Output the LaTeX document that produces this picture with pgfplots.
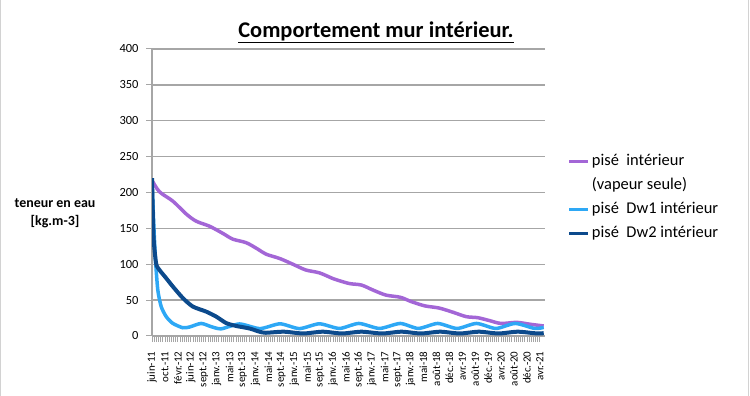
\documentclass[border=0pt]{standalone}
\usepackage{fontspec}
\setmainfont{Carlito}
\usepackage{pgfplots}
\pgfplotsset{compat=1.18}
\definecolor{cpurple}{HTML}{A366D6}
\definecolor{clight}{HTML}{2EA8F5}
\definecolor{cdark}{HTML}{0C4A8C}
\definecolor{cgrid}{HTML}{A6A6A6}
\begin{document}
\begin{tikzpicture}
\path[use as bounding box] (0bp,0bp) rectangle (750bp,396bp);
\draw[gray!35, line width=1bp] (0.5bp,0bp) -- (0.5bp,396bp);
\draw[gray!35, line width=1bp] (748.5bp,0bp) -- (748.5bp,396bp);
\node[font=\fontsize{22.5}{26}\selectfont\bfseries] at (376bp,364bp) {\underline{Comportement mur intérieur.}};
\node[font=\fontsize{14}{18}\selectfont\bfseries, align=center] at (55bp,183bp) {teneur en eau\\{[}kg.m-3{]}};
\begin{axis}[
  at={(152bp,60bp)}, anchor=south west,
  scale only axis, width=393bp, height=287bp,
  xmin=0, xmax=30.4, ymin=0, ymax=400,
  axis x line*=bottom, axis y line*=left,
  axis line style={-, draw=cgrid, line width=1.3bp},
  ytick={0,50,...,400},
  ymajorgrids, grid style={cgrid, line width=1.3bp},
  xtick={0,...,30},
  xticklabels={juin-11,oct.-11,févr.-12,juin-12,sept.-12,janv.-13,mai-13,sept.-13,janv.-14,mai-14,sept.-14,janv.-15,mai-15,sept.-15,janv.-16,mai-16,sept.-16,janv.-17,mai-17,sept.-17,janv.-18,mai-18,août-18,déc.-18,avr.-19,août-19,déc.-19,avr.-20,août-20,déc.-20,avr.-21},
  minor x tick num=5,
  tick align=outside,
  x tick style={draw=gray!70, line width=0.8bp},
  y tick style={draw=cgrid, line width=1bp},
  major tick length=6bp, minor tick length=6bp,
  /pgf/number format/assume math mode=true,
  x tick label style={rotate=90, anchor=east, font=\fontsize{11}{12}\selectfont},
  xticklabel shift=6bp,
  y tick label style={font=\fontsize{12.5}{14}\selectfont},
  yticklabel shift=4bp,
  legend style={at={(1.058,0.645)}, anchor=north west, draw=none, fill=none,
    font=\fontsize{16.5}{19}\selectfont, row sep=4.3bp, inner sep=0pt,
    nodes={inner sep=2bp, text height=12bp, text depth=4bp}},
  legend cell align=left,
  legend image code/.code={\draw[#1, line width=3bp] (0bp,0bp) -- (19bp,0bp);},
]
\addplot[cpurple, line width=3.5bp, smooth, tension=0.5] coordinates {
(0,217) (0.58,201) (1.61,188) (2.65,170) (3.42,160) (4.45,153) (5.48,143) (6.25,135) (7.29,130) (8.19,121) (8.83,114) (9.88,108) (10.9,100) (11.9,92) (12.95,88) (14,80) (14.5,77) (15.3,73) (16.2,71) (17.1,64) (18.1,57) (19.2,54) (20.05,48) (21.1,42) (22.2,39) (23.3,33) (24.3,27) (25.2,25.5) (26.1,21.5) (27,17.5) (28.2,19) (29.2,16.5) (30.3,14)
};
\addlegendentry{pisé\ \ intérieur}
\addlegendimage{empty legend}
\addlegendentry{(vapeur seule)}
\addplot[clight, line width=3.5bp, smooth, tension=0.4] coordinates {
(0,220) (0.12,162) (0.27,106) (0.45,64) (0.71,41) (1.1,27) (1.61,17.6) (2.38,11.5) (2.9,12.5) (3.8,17.5) (4.58,13) (5.35,10) (6.77,16.8) (8.35,10.3) (9.9,17) (11.4,10.3) (12.95,17) (14.5,10.5) (16,17.5) (17.6,10.5) (19.2,17.5) (20.6,10.5) (22.1,17.5) (23.6,10.5) (25.1,17.5) (26.6,10.5) (28.1,17.5) (29.6,10.5) (30.3,12)
};
\addlegendentry{pisé\ \ Dw1 intérieur}
\addplot[cdark, line width=4bp, smooth, tension=0.4] coordinates {
(0,220) (0.12,138) (0.32,101) (0.58,92) (1.1,80.5) (1.61,69) (2.38,53) (3.16,41) (4.19,34) (4.97,27) (5.74,18) (6.51,14) (7.54,10.5) (8.31,6) (8.8,4.5) (10.2,6) (11.7,3.5) (13.2,6) (14.7,3.5) (16.2,6) (17.8,3.5) (19.3,6) (20.8,3.5) (22.3,6) (23.8,3.5) (25.3,6) (26.8,3.5) (28.3,6) (29.8,3.5) (30.3,4)
};
\addlegendentry{pisé\ \ Dw2 intérieur}
\end{axis}
\end{tikzpicture}
\end{document}
